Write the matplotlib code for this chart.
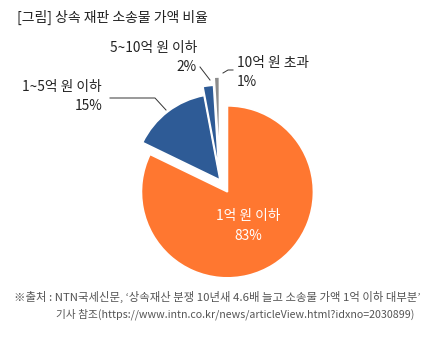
import matplotlib.pyplot as plt

plt.rcParams['font.family'] = ['Noto Sans CJK KR', 'DejaVu Sans']

title = "[그림] 상속 재판 소송물 가액 비율"
categories = ["1억 원 이하", "1~5억 원 이하", "5~10억 원 이하", "10억 원 초과"]
shares = [83, 15, 2, 1]
colors = ["#FF7730", "#2E5B96", "#2E5B96", "#8C8C8C"]
source = ["※출처 : NTN국세신문, ‘상속재산 분쟁 10년새 4.6배 늘고 소송물 가액 1억 이하 대부분’",
          "기사 참조(https://www.intn.co.kr/news/articleView.html?idxno=2030899)"]

W, H = 438, 341
fig = plt.figure(figsize=(W / 100, H / 100), dpi=100)
ax = fig.add_axes([0, 0, 1, 1])

# pixel-style coordinates: y grows downward, so go counterclockwise in data to get clockwise on screen
wedges, _ = ax.pie(shares, colors=colors, startangle=-90, counterclock=True,
                   radius=86, center=(220, 180), explode=[14, 0, 9, 17],
                   wedgeprops=dict(edgecolor='white', linewidth=1.2))
ax.set_xlim(0, W)
ax.set_ylim(H, 0)
ax.set_aspect('equal')
ax.axis('off')

txt = '#222222'
fs = 9.9
ax.text(17, 17, title, fontsize=10, color=txt, va='center', ha='left')

# inside label for the largest slice
ax.text(248, 216, categories[0], fontsize=fs, color='white', ha='center', va='center')
ax.text(248, 236, f"{shares[0]}%", fontsize=fs, color='white', ha='center', va='center')

# outside labels
ax.text(102, 87, categories[1], fontsize=fs, color=txt, ha='right', va='center')
ax.text(102, 106, f"{shares[1]}%", fontsize=fs, color=txt, ha='right', va='center')
ax.text(197, 48, categories[2], fontsize=fs, color=txt, ha='right', va='center')
ax.text(197, 67, f"{shares[2]}%", fontsize=fs, color=txt, ha='right', va='center')
ax.text(237, 63, categories[3], fontsize=fs, color=txt, ha='left', va='center')
ax.text(237, 82, f"{shares[3]}%", fontsize=fs, color=txt, ha='left', va='center')

# leader lines
lc = '#333333'
ax.plot([110, 155, 166], [98, 98, 110], color=lc, lw=0.7)
ax.plot([200, 210], [67, 80], color=lc, lw=0.7)
ax.plot([223, 228, 233], [73, 70, 70], color=lc, lw=0.7)

ax.text(14, 297, source[0], fontsize=8.2, color='#555555', ha='left', va='center')
ax.text(56, 314, source[1], fontsize=7.7, color='#555555', ha='left', va='center')

fig.savefig('out.png', dpi=100)
